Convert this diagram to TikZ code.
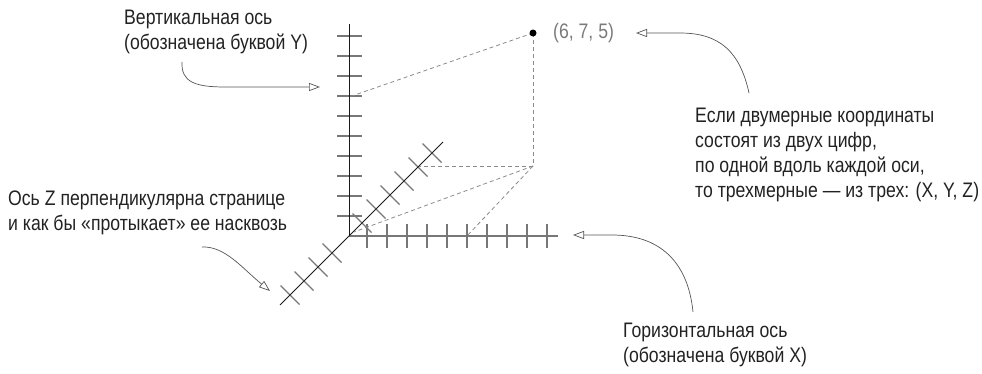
\documentclass[tikz,border=0pt]{standalone}
\usepackage{fontspec}
\newfontfamily\narrow[FakeStretch=0.84]{Liberation Sans}
\usetikzlibrary{arrows.meta}
\definecolor{txt}{HTML}{222222}
\definecolor{axk}{HTML}{1A1A1A}
\definecolor{tickc}{HTML}{777777}
\definecolor{dashc}{HTML}{8A8A8A}
\definecolor{arrc}{HTML}{555555}
\definecolor{ptc}{HTML}{7A7A7A}
\begin{document}
\begin{tikzpicture}[x=1pt,y=-1pt,
  lbl/.style={font=\narrow\fontsize{21}{25}\selectfont, text=txt, align=left, inner sep=0pt, anchor=north west},
  axisline/.style={line width=1pt, draw=axk},
  xaxisline/.style={line width=1.2pt, draw=tickc},
  tickline/.style={line width=1.2pt, draw=tickc},
  guide/.style={dash pattern=on 4pt off 3pt, draw=dashc, line width=0.8pt},
  callout/.style={draw=arrc, line width=0.7pt, -{Triangle[open,length=11pt,width=8pt]}}]
\useasboundingbox (0,0) rectangle (982,374);

% key points
\coordinate (O) at (349,236);
\coordinate (Ytop) at (349,24);
\coordinate (Xend) at (558,236);
\coordinate (Zhi) at (443,142);
\coordinate (Zlo) at (280,305);

% ticks
\foreach \k in {1,...,10} \draw[tickline] (337,{236-20*\k}) -- (362,{236-20*\k});
\foreach \k in {0,...,9} \draw[tickline] ({367+20*\k},224) -- ({367+20*\k},248);
\foreach \d in {-59,-45,-31,-17,13,27,41,55,69,83}
  \draw[tickline] ({349+\d-9.5},{236-\d-9.5}) -- ({349+\d+9.5},{236-\d+9.5});

% axes
\draw[xaxisline] (O) -- (Xend);
\draw[axisline] (O) -- (Ytop);
\draw[axisline] (Zlo) -- (Zhi);

% point and guides
\coordinate (Ya) at (349,97);
\coordinate (Pb) at (533,166);
\coordinate (Za) at (419,166);
\coordinate (Xa) at (467,236);
\coordinate (Oa) at (354,232);
\draw[guide] (533,33) -- (Ya);
\draw[guide] (533,33) -- (Pb);
\draw[guide] (Pb) -- (Za);
\draw[guide] (Pb) -- (Oa);
\draw[guide] (Pb) -- (Xa);
\node[circle, fill=black, inner sep=0pt, minimum size=7pt] (P) at (533,33) {};
\node[font=\narrow\fontsize{21}{25}\selectfont, text=ptc, anchor=west, inner sep=0pt] (Plbl) at (553,33) {(6, 7, 5)};

% texts
\node[lbl] (ytxt) at (124,10) {Вертикальная ось\\(обозначена буквой Y)};
\node[lbl] (ztxt) at (8,191) {Ось Z перпендикулярна странице\\и как бы «протыкает» ее насквозь};
\node[lbl] (ptxt) at (695,108) {Если двумерные координаты\\состоят из двух цифр,\\по одной вдоль каждой оси,\\то трехмерные — из трех: (X, Y, Z)};
\node[lbl] (xtxt) at (623,323) {Горизонтальная ось\\(обозначена буквой X)};

% callouts
\coordinate (ys) at (182,62);
\coordinate (yt) at (320,87);
\draw[callout] (ys) .. controls (181,82) and (195,87) .. (225,87) -- (yt);
\coordinate (ps) at (749,93);
\coordinate (pt) at (636,33);
\draw[callout] (ps) .. controls (740,52) and (720,33) .. (680,33) -- (pt);
\coordinate (xs) at (693,312);
\coordinate (xt) at (573,235);
\draw[callout] (xs) .. controls (688,262) and (660,235) .. (612,235) -- (xt);
\coordinate (zs) at (202,247);
\coordinate (zt) at (270,291);
\draw[callout] (zs) .. controls (225,246) and (242,268) .. (zt);
\end{tikzpicture}
\end{document}
